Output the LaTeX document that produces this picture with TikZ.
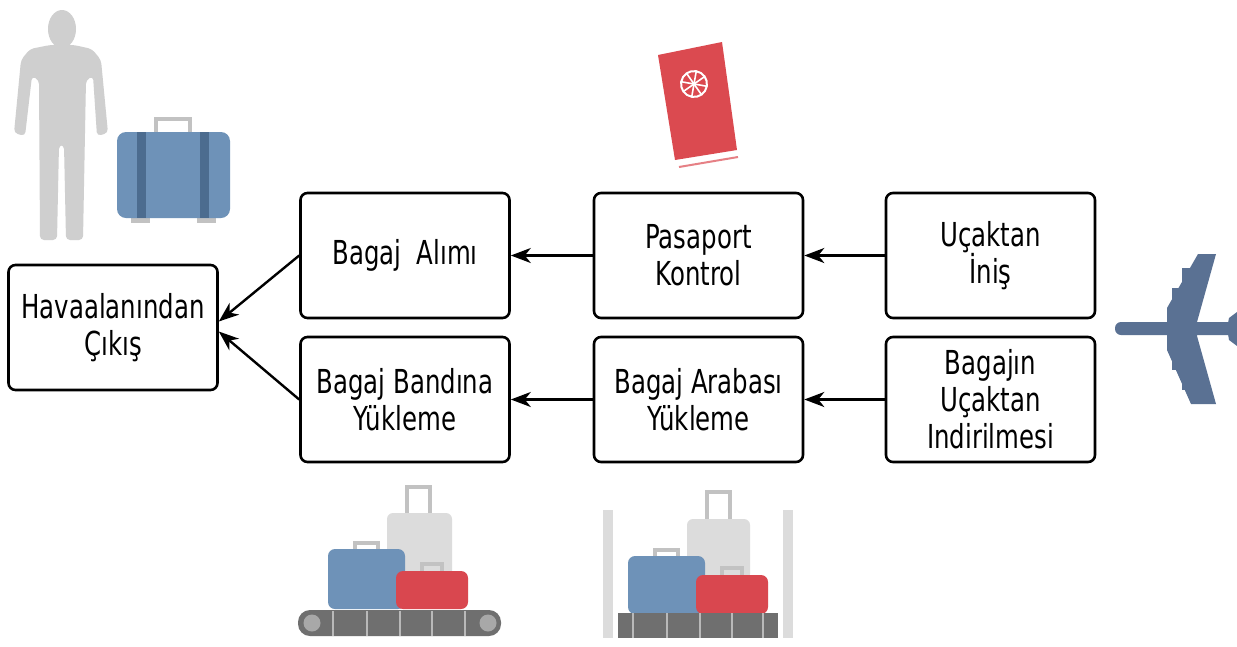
\documentclass[tikz,border=0pt]{standalone}
\usepackage{fontspec}
\setmainfont[FakeStretch=0.74]{DejaVu Sans}
\usetikzlibrary{arrows.meta}

\definecolor{personGray}{HTML}{CFCFCF}
\definecolor{caseBlue}{HTML}{6E92B8}
\definecolor{strapBlue}{HTML}{4C6C8F}
\definecolor{handleGray}{HTML}{C2C2C2}
\definecolor{lightCase}{HTML}{DCDCDC}
\definecolor{caseRed}{HTML}{D9474F}
\definecolor{beltGray}{HTML}{6F6F6F}
\definecolor{rollerGray}{HTML}{A8A8A8}
\definecolor{planeBlue}{HTML}{5A7193}
\definecolor{passRed}{HTML}{DB4A50}

\tikzset{
  stepbox/.style={draw, line width=2.6pt, rounded corners=7pt,
    minimum width=209pt, minimum height=125pt, inner sep=2pt, align=center,
    font=\fontsize{33}{37}\selectfont},
  flow/.style={line width=2.4pt, -{Stealth[length=20pt,width=15pt,inset=6pt]}},
  handle/.style={draw=handleGray, line width=3.5pt, fill=none},
}

\begin{document}
\begin{tikzpicture}[x=1pt,y=-1pt]
\useasboundingbox (0,0) rectangle (1237,646);
\fill[white] (0,0) rectangle (1237,646);

% ---- person ----
\fill[personGray] (62,29) ellipse [x radius=14, y radius=19];
\fill[personGray, rounded corners=4pt]
  (50,45) -- (30,49) -- (21,60) -- (14,133) -- (25,136) -- (32,76) -- (39,80)
  -- (40,240) -- (57,240) -- (59,145) -- (64,145) -- (66,240) -- (83,240)
  -- (86,80) -- (93,76) -- (97,136) -- (108,133) -- (101,60) -- (92,49)
  -- (74,45) -- cycle;

% ---- briefcase ----
\draw[handle] (156,132) -- (156,119) -- (190,119) -- (190,132);
\fill[handleGray] (131,214) rectangle (150,223);
\fill[handleGray] (197,214) rectangle (216,223);
\fill[caseBlue, rounded corners=9pt] (117,132) rectangle (230,218);
\fill[strapBlue] (137,132) rectangle (146,218);
\fill[strapBlue] (200,132) rectangle (209,218);

% ---- passport ----
\fill[passRed] (658,55) -- (722,42) -- (737,150) -- (675,160) -- cycle;
\draw[white, line width=2pt] (678,163) -- (737,153);
\draw[passRed!70, line width=2pt] (679,167) -- (738,157);
\begin{scope}[shift={(694,84)}, rotate=-10]
  \draw[white, line width=2pt] (0,0) circle (13);
  \foreach \a in {0,45,...,315} \draw[white, line width=1.6pt] (0,0) -- (\a:13);
\end{scope}

% ---- aircraft ----
\fill[planeBlue, rounded corners=6pt] (1115,322) rectangle (1245,335);
\fill[planeBlue] (1198,254) -- (1216,254) -- (1197,322) -- (1197,336)
  -- (1216,404) -- (1191,404) -- (1167,350) -- (1167,308) -- cycle;
\fill[planeBlue] (1182,268) rectangle (1192,284);
\fill[planeBlue] (1172,288) rectangle (1182,304);
\fill[planeBlue] (1172,354) rectangle (1182,370);
\fill[planeBlue] (1182,374) rectangle (1192,390);
\fill[planeBlue] (1237,312) -- (1229,318) -- (1227,328) -- (1229,340) -- (1237,346) -- cycle;

% ---- baggage belt ----
\draw[handle] (407,513) -- (407,487) -- (430,487) -- (430,513);
\fill[lightCase, rounded corners=6pt] (387,513) rectangle (452,578);
\draw[handle] (355,550) -- (355,543) -- (378,543) -- (378,550);
\fill[caseBlue, rounded corners=7pt] (328,549) rectangle (405,609);
\draw[handle] (422,572) -- (422,564) -- (442,564) -- (442,572);
\fill[caseRed, rounded corners=7pt] (396,571) rectangle (468,609);
\fill[beltGray, rounded corners=12pt] (298,610) rectangle (501,636);
\foreach \x in {333,367,400,432,465}
  \draw[rollerGray!80, line width=2pt] (\x,611) -- (\x,636);
\fill[rollerGray] (312,623) circle (8.5);
\fill[rollerGray] (488,623) circle (8.5);

% ---- baggage cart ----
\fill[lightCase] (603,510) rectangle (613,638);
\fill[lightCase] (783,510) rectangle (793,638);
\draw[handle] (707,520) -- (707,492) -- (730,492) -- (730,520);
\fill[lightCase, rounded corners=6pt] (687,519) rectangle (750,580);
\draw[handle] (655,557) -- (655,550) -- (678,550) -- (678,557);
\fill[caseBlue, rounded corners=7pt] (628,556) rectangle (705,614);
\draw[handle] (722,576) -- (722,568) -- (742,568) -- (742,576);
\fill[caseRed, rounded corners=7pt] (696,575) rectangle (768,614);
\fill[beltGray] (618,613) rectangle (778,638);
\foreach \x in {633,667,700,732,763}
  \draw[rollerGray!80, line width=2pt] (\x,613) -- (\x,638);

% ---- process boxes ----
\node[stepbox] (exit)  at (113,327.5) {Havaalanından\\Çıkış};
\node[stepbox] (alim)  at (405,255.5) {Bagaj\ \ Alımı};
\node[stepbox] (band)  at (405,399.5) {Bagaj Bandına\\Yükleme};
\node[stepbox] (pas)   at (698.5,255.5) {Pasaport\\Kontrol};
\node[stepbox] (araba) at (698.5,399.5) {Bagaj Arabası\\Yükleme};
\node[stepbox] (inis)  at (990.5,255.5) {Uçaktan\\İniş};
\node[stepbox] (indir) at (990.5,399.5) {Bagajın\\Uçaktan\\Indirilmesi};

% ---- flow ----
\draw[flow] (inis.west) -- (pas.east);
\draw[flow] (pas.west) -- (alim.east);
\draw[flow] (indir.west) -- (araba.east);
\draw[flow] (araba.west) -- (band.east);
\draw[flow] (alim.west) -- ([yshift=6pt]exit.east);
\draw[flow] (band.west) -- ([yshift=-4pt]exit.east);
\end{tikzpicture}
\end{document}
